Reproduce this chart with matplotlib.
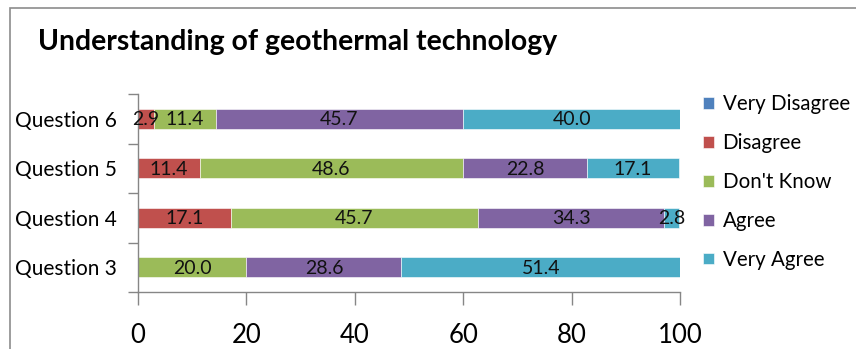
import matplotlib
matplotlib.use("Agg")
import matplotlib.pyplot as plt
from matplotlib.patches import Rectangle
import numpy as np

plt.rcParams['font.family'] = ['Lato', 'DejaVu Sans']

questions = ["Question 3", "Question 4", "Question 5", "Question 6"]
series_names = ["Very Disagree", "Disagree", "Don't Know", "Agree", "Very Agree"]
very_disagree = [0.0, 0.0, 0.0, 0.0]
disagree = [0.0, 17.1, 11.4, 2.9]
dont_know = [20.0, 45.7, 48.6, 11.4]
agree = [28.6, 34.3, 22.8, 45.7]
very_agree = [51.4, 2.8, 17.1, 40.0]
colors = ["#4F81BD", "#C0504D", "#9BBB59", "#8064A2", "#4BACC6"]
x_ticks = [0, 20, 40, 60, 80, 100]

series = [very_disagree, disagree, dont_know, agree, very_agree]

fig = plt.figure(figsize=(8.56, 3.49), dpi=100)
ax = fig.add_axes([138 / 856, 1 - 292 / 349, (680 - 138) / 856, (292 - 94) / 349])

# outer chart frame
fig.patches.append(Rectangle((9.5 / 856, -0.1), 1.2, 1.1 - 8.5 / 349,
                             transform=fig.transFigure, fill=False,
                             edgecolor="#8c8c8c", linewidth=1.2))

y = np.arange(len(questions))
left = np.zeros(len(questions))
for name, vals, col in zip(series_names, series, colors):
    vals = np.array(vals)
    ax.barh(y, vals, left=left, height=0.4, color=col, label=name,
            edgecolor="white", linewidth=0.4)
    for yi, (l, v) in enumerate(zip(left, vals)):
        if v > 0:
            ax.text(l + v / 2, yi - 0.02, f"{v:.1f}", ha="center", va="center",
                    fontsize=14, color="#111111")
    left = left + vals

ax.set_xlim(0, 100)
ax.set_ylim(-0.5, 3.5)
ax.set_xticks(x_ticks)
ax.set_xticklabels([str(t) for t in x_ticks], fontsize=18.5)
ax.set_yticks(y)
ax.set_yticklabels(questions, fontsize=15)
ax.set_yticks(np.arange(-0.5, 4.0, 1.0), minor=True)
ax.tick_params(axis="y", which="major", length=0, pad=15)
ax.tick_params(axis="y", which="minor", length=7, color="#868686", width=1)
ax.tick_params(axis="x", length=9, color="#868686", width=1, pad=13)

for s in ["top", "right"]:
    ax.spines[s].set_visible(False)
for s in ["left", "bottom"]:
    ax.spines[s].set_color("#868686")
    ax.spines[s].set_linewidth(1)

fig.text(38 / 856, 1 - 42 / 349, "Understanding of geothermal technology",
         fontsize=20.4, fontweight="bold", va="center", ha="left")

handles, labels = ax.get_legend_handles_labels()
fig.legend(handles, labels, loc="upper left", bbox_to_anchor=(695 / 856, 1 - 86 / 349),
           frameon=False, fontsize=14.8, handlelength=0.5, handleheight=0.5,
           handletextpad=0.44, labelspacing=0.92, borderaxespad=0)

fig.savefig("out.png", dpi=100)
